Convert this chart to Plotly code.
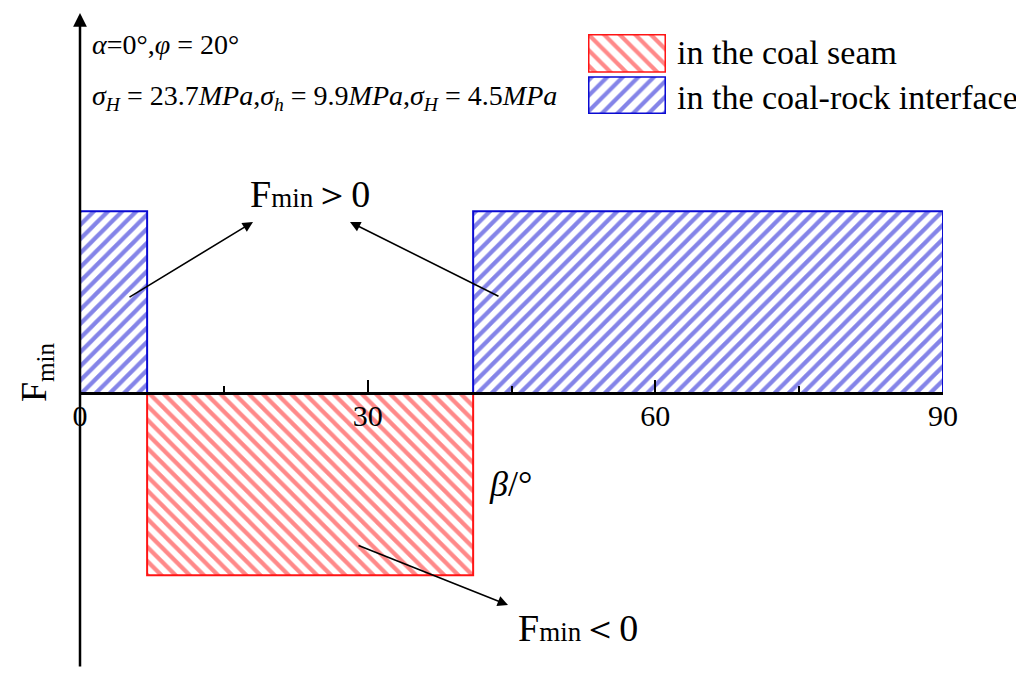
import plotly.graph_objects as go

# ---- data ----
interface_start = [0, 41]
interface_end = [7, 90]
interface_value = [1, 1]

seam_start = [7]
seam_end = [41]
seam_value = [-1]

x_tick_vals = [0, 30, 60, 90]
x_tick_text = ["0", "30", "60", "90"]
x_minor_step = 15

legend_names = ["in the coal seam", "in the coal-rock interface"]

FONT = "Liberation Serif"
BLUE = "#0a0ad2"
RED = "#ff1414"

OFF = 8  # page body margin
W, H = 1024, 682
# target plot area on screen: x 80..943, y 13..668
ML = 80 - OFF
MT = 13 - OFF
PW = 943 - 80
PH = 668 - 13
MR = W - ML - PW
MB = H - MT - PH
Y0, Y1 = -1.51, 2.09


def px(x):
    return (x - 80) / PW


def py(y):
    return (668 - y) / PH


def dx(x):
    return (x - 80) / PW * 90


def dy(y):
    return Y0 + (668 - y) / PH * (Y1 - Y0)


fig = go.Figure()

fig.add_trace(go.Bar(
    x=[(s + e) / 2 for s, e in zip(seam_start, seam_end)],
    y=seam_value,
    width=[e - s for s, e in zip(seam_start, seam_end)],
    marker=dict(color="white", line=dict(color=RED, width=2),
                pattern=dict(shape="\\", fgcolor=RED, bgcolor="white",
                             size=10, solidity=0.42, fillmode="overlay")),
    name=legend_names[0], showlegend=False,
))
fig.add_trace(go.Bar(
    x=[(s + e) / 2 for s, e in zip(interface_start, interface_end)],
    y=interface_value,
    width=[e - s for s, e in zip(interface_start, interface_end)],
    marker=dict(color="white", line=dict(color=BLUE, width=2),
                pattern=dict(shape="/", fgcolor=BLUE, bgcolor="white",
                             size=10, solidity=0.42, fillmode="overlay")),
    name=legend_names[1], showlegend=False,
))

# legend swatches on a small helper axis pair
fig.add_trace(go.Bar(
    x=[0.5], y=[37], base=[41], width=[1], xaxis="x2", yaxis="y2",
    marker=dict(color="white", line=dict(color=RED, width=1.5),
                pattern=dict(shape="\\", fgcolor=RED, bgcolor="white",
                             size=11, solidity=0.38, fillmode="overlay")),
    showlegend=False, hoverinfo="skip",
))
fig.add_trace(go.Bar(
    x=[0.5], y=[36], base=[0], width=[1], xaxis="x2", yaxis="y2",
    marker=dict(color="white", line=dict(color=BLUE, width=1.5),
                pattern=dict(shape="/", fgcolor=BLUE, bgcolor="white",
                             size=11, solidity=0.38, fillmode="overlay")),
    showlegend=False, hoverinfo="skip",
))

ann = []
# y axis with arrow
ann.append(dict(x=0, y=dy(13), ax=0, ay=Y0, xref="x", yref="y", axref="x", ayref="y",
                text="", showarrow=True, arrowhead=2, arrowsize=1.1, arrowwidth=2.5,
                arrowcolor="black", standoff=0, startstandoff=0))

# text annotations
ann.append(dict(x=px(90), y=py(44), xref="paper", yref="paper", xanchor="left", yanchor="middle",
                text="<i>α</i>=0°,<i>φ</i> = 20°", showarrow=False,
                font=dict(family=FONT, size=28, color="black")))
ann.append(dict(x=px(90), y=py(97), xref="paper", yref="paper", xanchor="left", yanchor="middle",
                text="<i>σ</i><sub><i>H</i></sub> = 23.7<i>MPa</i>,<i>σ</i><sub><i>h</i></sub> = 9.9<i>MPa</i>,"
                     "<i>σ</i><sub><i>H</i></sub> = 4.5<i>MPa</i>",
                showarrow=False, font=dict(family=FONT, size=28, color="black")))
ann.append(dict(x=px(675), y=py(53), xref="paper", yref="paper", xanchor="left", yanchor="middle",
                text=legend_names[0], showarrow=False, font=dict(family=FONT, size=34, color="black")))
ann.append(dict(x=px(675), y=py(97), xref="paper", yref="paper", xanchor="left", yanchor="middle",
                text=legend_names[1], showarrow=False, font=dict(family=FONT, size=34, color="black")))
ann.append(dict(x=px(248), y=py(194), xref="paper", yref="paper", xanchor="left", yanchor="middle",
                text="F<span style='font-size:27px'>min</span>＞0", showarrow=False,
                font=dict(family=FONT, size=38, color="black")))
ann.append(dict(x=px(516), y=py(628), xref="paper", yref="paper", xanchor="left", yanchor="middle",
                text="F<span style='font-size:27px'>min</span>＜0", showarrow=False,
                font=dict(family=FONT, size=38, color="black")))
ann.append(dict(x=px(510), y=py(484), xref="paper", yref="paper", xanchor="center", yanchor="middle",
                text="<i>β</i>/°", showarrow=False, font=dict(family=FONT, size=36, color="black")))
ann.append(dict(x=px(36), y=py(372), xref="paper", yref="paper", xanchor="center", yanchor="middle",
                text="F<sub>min</sub>", textangle=-90, showarrow=False,
                font=dict(family=FONT, size=36, color="black")))

# pointer arrows
for (tx, ty, hx, hy) in [(128, 298, 253, 222), (500, 297, 350, 222), (357, 545, 508, 605)]:
    ann.append(dict(x=dx(hx), y=dy(hy), ax=dx(tx), ay=dy(ty), xref="x", yref="y",
                    axref="x", ayref="y", text="", showarrow=True, arrowhead=2,
                    arrowsize=1.3, arrowwidth=1.6, arrowcolor="black",
                    standoff=0, startstandoff=0))

fig.update_layout(
    width=W, height=H,
    margin=dict(l=ML, r=MR, t=MT, b=MB),
    paper_bgcolor="white", plot_bgcolor="white",
    barmode="overlay",
    showlegend=False,
    annotations=ann,
    xaxis=dict(range=[0, 90], domain=[0, 1], anchor="free", position=(0 - Y0) / (Y1 - Y0),
               showgrid=False, zeroline=False, showline=True, linecolor="black", linewidth=2.5,
               tickmode="array", tickvals=x_tick_vals, ticktext=x_tick_text,
               ticks="inside", ticklen=13, tickwidth=2, tickcolor="black",
               minor=dict(dtick=x_minor_step, tick0=0, ticks="inside", ticklen=7,
                          tickwidth=2, tickcolor="black", showgrid=False),
               ticklabelstandoff=-5,
               tickfont=dict(family=FONT, size=30, color="black"), layer="above traces"),
    yaxis=dict(range=[Y0, Y1], visible=False, showgrid=False, zeroline=False),
    xaxis2=dict(domain=[px(588), px(666)], range=[-0.01, 1.01], anchor="y2", visible=False,
                showgrid=False),
    yaxis2=dict(domain=[py(114), py(34)], range=[-0.7, 78.7], anchor="x2", visible=False,
                showgrid=False),
)

fig.write_html("out.html")
